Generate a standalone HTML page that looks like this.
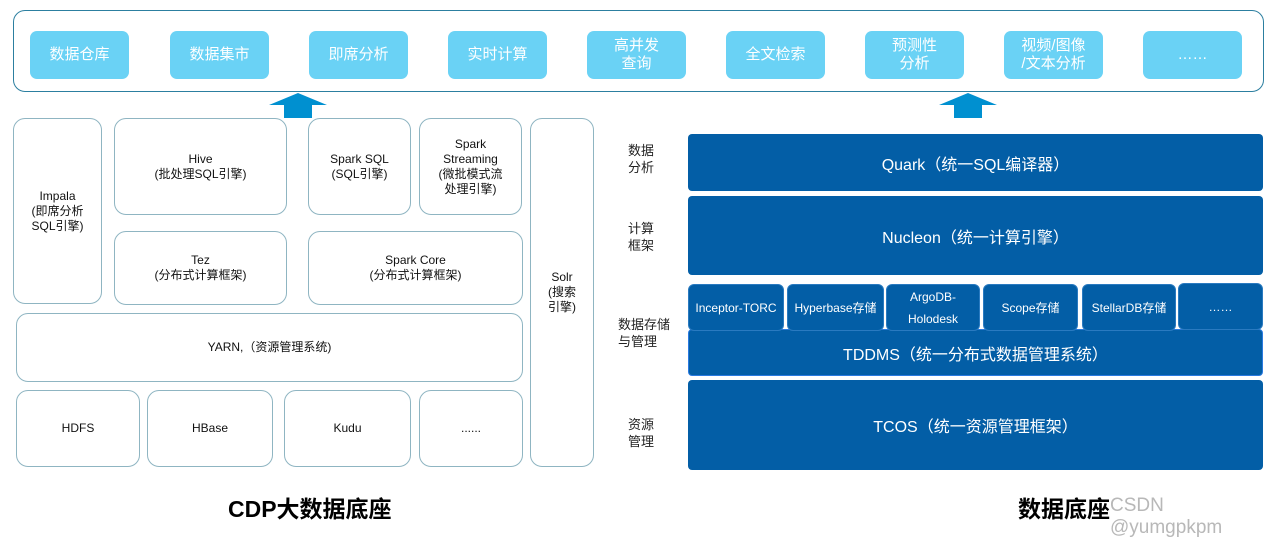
<!DOCTYPE html>
<html><head><meta charset="utf-8"><style>
body{margin:0;width:1280px;height:528px;background:#fff;position:relative;overflow:hidden;font-family:"Liberation Sans","Noto Sans CJK SC",sans-serif}
.a{position:absolute;box-sizing:border-box;display:flex;align-items:center;justify-content:center;text-align:center}
.t{background:#6ad2f5;color:#fff;font-size:15px;border-radius:7px;line-height:18px}
.l{border:1.5px solid #8fb5c2;border-radius:12px;font-size:12px;color:#111;line-height:15px}
.d{background:#035ea6;color:#fff;border-radius:4px;font-size:16px}
.s{background:#035ea6;color:#fff;border-radius:6px;font-size:12px;line-height:22px;border:1px solid #2a7ac0}
.lab{position:absolute;font-size:13px;color:#222;line-height:17px}
</style></head><body>
<div class="a" style="left:13px;top:10px;width:1251px;height:82px;border:1.5px solid #2c7fa0;border-radius:12px"></div>
<div class="a t" style="left:30px;top:31px;width:99px;height:48px">数据仓库</div>
<div class="a t" style="left:170px;top:31px;width:99px;height:48px">数据集市</div>
<div class="a t" style="left:309px;top:31px;width:99px;height:48px">即席分析</div>
<div class="a t" style="left:448px;top:31px;width:99px;height:48px">实时计算</div>
<div class="a t" style="left:587px;top:31px;width:99px;height:48px">高并发<br>查询</div>
<div class="a t" style="left:726px;top:31px;width:99px;height:48px">全文检索</div>
<div class="a t" style="left:865px;top:31px;width:99px;height:48px">预测性<br>分析</div>
<div class="a t" style="left:1004px;top:31px;width:99px;height:48px">视频/图像<br>/文本分析</div>
<div class="a t" style="left:1143px;top:31px;width:99px;height:48px">……</div>
<svg style="position:absolute;left:0;top:0" width="1280" height="528">
<polygon points="298,93 327,105 312,105 312,118 284,118 284,105 269,105" fill="#0090d0"/>
<polygon points="968,93 997,105 982,105 982,118 954,118 954,105 939,105" fill="#0090d0"/>
</svg>
<div class="a l" style="left:13px;top:118px;width:89px;height:186px">Impala<br>(即席分析<br>SQL引擎)</div>
<div class="a l" style="left:114px;top:118px;width:173px;height:97px">Hive<br>(批处理SQL引擎)</div>
<div class="a l" style="left:308px;top:118px;width:103px;height:97px">Spark SQL<br>(SQL引擎)</div>
<div class="a l" style="left:419px;top:118px;width:103px;height:97px">Spark<br>Streaming<br>(微批模式流<br>处理引擎)</div>
<div class="a l" style="left:114px;top:231px;width:173px;height:74px">Tez<br>(分布式计算框架)</div>
<div class="a l" style="left:308px;top:231px;width:215px;height:74px">Spark Core<br>(分布式计算框架)</div>
<div class="a l" style="left:16px;top:313px;width:507px;height:69px">YARN,（资源管理系统)</div>
<div class="a l" style="left:16px;top:390px;width:124px;height:77px">HDFS</div>
<div class="a l" style="left:147px;top:390px;width:126px;height:77px">HBase</div>
<div class="a l" style="left:284px;top:390px;width:127px;height:77px">Kudu</div>
<div class="a l" style="left:419px;top:390px;width:104px;height:77px">......</div>
<div class="a l" style="left:530px;top:118px;width:64px;height:349px">Solr<br>(搜索<br>引擎)</div>
<div class="lab" style="left:628px;top:142px">数据<br>分析</div>
<div class="lab" style="left:628px;top:220px">计算<br>框架</div>
<div class="lab" style="left:618px;top:316px">数据存储<br>与管理</div>
<div class="lab" style="left:628px;top:416px">资源<br>管理</div>
<div class="a d" style="left:688px;top:134px;width:575px;height:57px">Quark（统一SQL编译器）</div>
<div class="a d" style="left:688px;top:196px;width:575px;height:79px">Nucleon（统一计算引擎）</div>
<div class="a d" style="left:688px;top:329px;width:575px;height:47px;border:1px solid #2a7ae0">TDDMS（统一分布式数据管理系统）</div>
<div class="a d" style="left:688px;top:380px;width:575px;height:90px">TCOS（统一资源管理框架）</div>
<div class="a s" style="left:688px;top:284px;width:96px;height:47px">Inceptor-TORC</div>
<div class="a s" style="left:787px;top:284px;width:97px;height:47px">Hyperbase存储</div>
<div class="a s" style="left:886px;top:284px;width:94px;height:47px">ArgoDB-<br>Holodesk</div>
<div class="a s" style="left:983px;top:284px;width:95px;height:47px">Scope存储</div>
<div class="a s" style="left:1082px;top:284px;width:94px;height:47px">StellarDB存储</div>
<div class="a s" style="left:1178px;top:283px;width:85px;height:47px">……</div>
<div style="position:absolute;left:228px;top:490px;font-size:23px;font-weight:bold;color:#000">CDP大数据底座</div>
<div style="position:absolute;left:1110px;top:495px;font-size:19px;color:#b8b8b8">CSDN @yumgpkpm</div>
<div style="position:absolute;left:1018px;top:490px;font-size:23px;font-weight:bold;color:#000">数据底座</div>
</body></html>
